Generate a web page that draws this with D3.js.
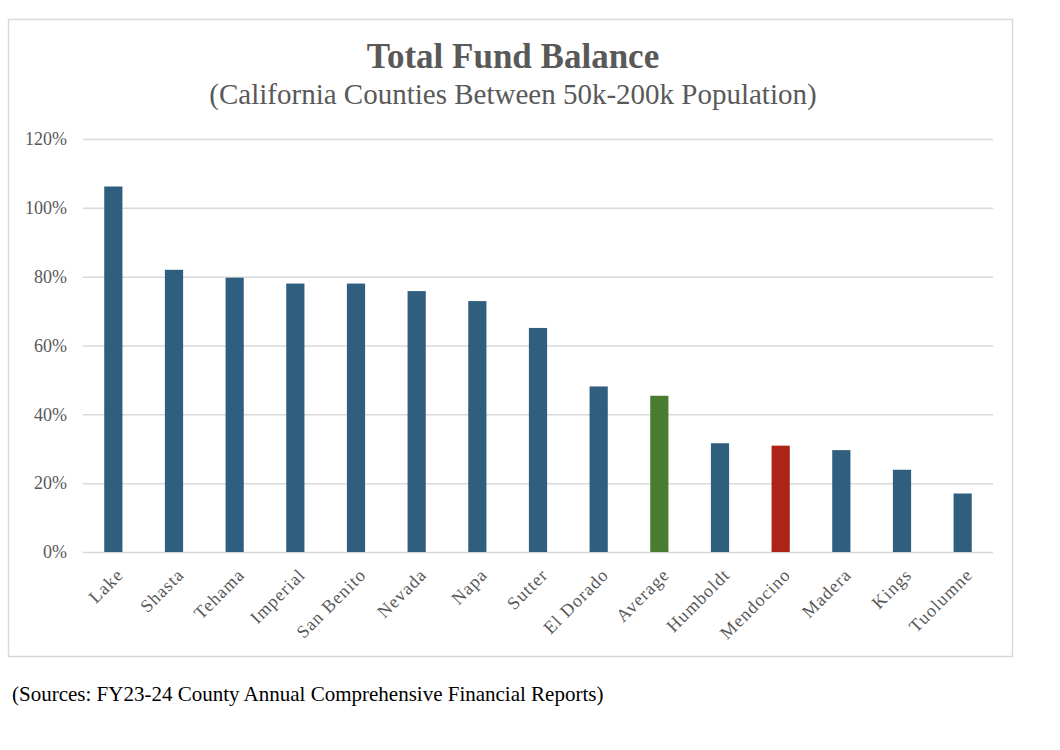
<!DOCTYPE html>
<html>
<head>
<meta charset="utf-8">
<script src="https://cdn.jsdelivr.net/npm/d3@7"></script>
<style>
	body { margin: 0; background: #fff; }
	text { font-family: "Liberation Serif", "DejaVu Serif", serif; }
</style>
</head>
<body>
<svg id="chart" width="1060" height="750"></svg>
<script>
"use strict";

// counties, sorted as in the chart
var counties = ['Lake', 'Shasta', 'Tehama', 'Imperial', 'San Benito', 'Nevada', 'Napa', 'Sutter',
	'El Dorado', 'Average', 'Humboldt', 'Mendocino', 'Madera', 'Kings', 'Tuolumne'];

// total fund balance, percent
var balance = [106.2, 82.0, 79.7, 78.0, 78.0, 75.8, 72.9, 65.1, 48.1, 45.4, 31.6, 30.9, 29.6, 23.9, 17.0];

var y_ticks = [0, 20, 40, 60, 80, 100, 120];

var colors = {
	county: '#2F5E7F',
	Average: '#4A7C30',
	Mendocino: '#AE2318'
};

var svg = d3.select('#chart');

var plot = {left: 83, right: 993, top: 139, bottom: 552};

//outer frame
svg.append('rect')
	.attr('x', 8.5)
	.attr('y', 19.5)
	.attr('width', 1004)
	.attr('height', 637)
	.attr('fill', 'none')
	.attr('stroke', '#d9d9d9')
	.attr('stroke-width', 1.5);

//titles
svg.append('text')
	.attr('x', 513)
	.attr('y', 68)
	.attr('text-anchor', 'middle')
	.attr('font-size', 35)
	.attr('font-weight', 'bold')
	.attr('fill', '#595959')
	.text('Total Fund Balance');

svg.append('text')
	.attr('x', 513)
	.attr('y', 104)
	.attr('text-anchor', 'middle')
	.attr('font-size', 29)
	.attr('fill', '#595959')
	.text('(California Counties Between 50k-200k Population)');

var x = d3.scaleBand()
	.domain(counties)
	.range([plot.left, plot.right])
	.paddingInner(0.7)
	.paddingOuter(0.35);

var y = d3.scaleLinear()
	.domain([0, 120])
	.range([plot.bottom, plot.top]);

//gridlines and y labels
var yAxis = d3.axisLeft(y)
	.tickValues(y_ticks)
	.tickSize(-(plot.right - plot.left))
	.tickPadding(16)
	.tickFormat(function(d) { return d + '%'; });

var gy = svg.append('g')
	.attr('transform', 'translate(' + plot.left + ',0)')
	.call(yAxis);
gy.select('.domain').remove();
gy.selectAll('.tick line')
	.attr('stroke', '#d9d9d9')
	.attr('stroke-width', 1.5);
gy.selectAll('.tick text')
	.attr('font-family', '"Liberation Serif", serif')
	.attr('font-size', 18)
	.attr('fill', '#595959');

//bars
var data = counties.map(function(c, i) { return {name: c, value: balance[i]}; });

svg.append('g').selectAll('rect')
	.data(data)
	.enter().append('rect')
	.attr('x', function(d) { return x(d.name); })
	.attr('y', function(d) { return y(d.value); })
	.attr('width', x.bandwidth())
	.attr('height', function(d) { return y(0) - y(d.value); })
	.attr('fill', function(d) { return colors[d.name] || colors.county; });

//x labels, rotated
svg.append('g').selectAll('text')
	.data(counties)
	.enter().append('text')
	.attr('transform', function(d) {
		var cx = x(d) + x.bandwidth() / 2 + 11;
		return 'translate(' + cx + ',' + (plot.bottom + 24) + ') rotate(-45)';
	})
	.attr('text-anchor', 'end')
	.attr('font-size', 18)
	.attr('letter-spacing', 1)
	.attr('fill', '#595959')
	.text(function(d) { return d; });

//source note
svg.append('text')
	.attr('x', 12)
	.attr('y', 701)
	.attr('font-size', 21)
	.attr('fill', '#000')
	.text('(Sources: FY23-24 County Annual Comprehensive Financial Reports)');
</script>
</body>
</html>
